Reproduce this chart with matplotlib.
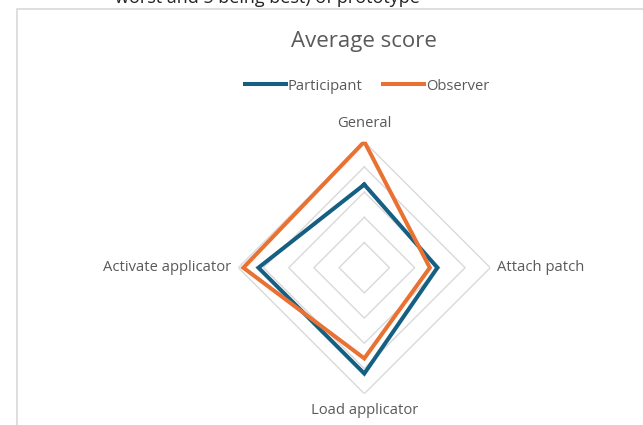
import numpy as np
import matplotlib
matplotlib.use("Agg")
import matplotlib.pyplot as plt
from matplotlib.patches import Rectangle

plt.rcParams['font.family'] = ['Open Sans', 'DejaVu Sans']

categories = ["General", "Attach patch", "Load applicator", "Activate applicator"]
participant = [3.3, 2.9, 4.2, 4.2]
observer = [5.0, 2.6, 3.6, 4.8]
ring_levels = [1, 2, 3, 4, 5]

text_color = "#595959"
grid_color = "#d9d9d9"
blue = "#156082"
orange = "#E97132"

W, H = 643, 425
fig = plt.figure(figsize=(W / 100, H / 100), dpi=100)

# chart frame (partly outside the picture)
fig.patches.append(Rectangle((17 / W, -0.1), 1.2, 1.1 - 9 / H,
                             transform=fig.transFigure, fill=False,
                             edgecolor=grid_color, linewidth=1.2))

# clipped line of the sheet title above the chart
fig.text(267 / W, 1 - 3 / H, "worst and 5 being best) of prototype",
         ha="center", va="baseline", fontsize=13, color="#222222")

cx, cy, rad = 364.3, 425 - 267.7, 126
ax = fig.add_axes([(cx - rad) / W, (cy - rad) / H, 2 * rad / W, 2 * rad / H],
                  projection="polar")
ax.set_theta_zero_location("N")
ax.set_theta_direction(-1)
ax.set_ylim(0, 5)
ax.grid(False)
ax.spines["polar"].set_visible(False)
ax.set_xticks([])
ax.set_yticks([])
ax.patch.set_alpha(0)

theta = np.linspace(0, 2 * np.pi, len(categories), endpoint=False)
theta_closed = np.append(theta, theta[0])

for lvl in ring_levels:
    ax.plot(theta_closed, [lvl] * len(theta_closed), color=grid_color,
            lw=1.0, zorder=1)

ax.plot(theta_closed, participant + participant[:1], color=blue, lw=2.9,
        solid_joinstyle="miter", zorder=3, label="Participant")
ax.plot(theta_closed, observer + observer[:1], color=orange, lw=2.9,
        solid_joinstyle="miter", zorder=4, label="Observer")

label_pos = [(5.72, "center", "center"), (5.25, "left", "center"),
             (5.66, "center", "center"), (5.28, "right", "center")]
for t, name, (r, ha, va) in zip(theta, categories, label_pos):
    ax.text(t, r, name, ha=ha, va=va, fontsize=10.6, color=text_color,
            clip_on=False)

fig.text(363.5 / W, 1 - 42 / H, "Average score", ha="center", va="center",
         fontsize=16, color=text_color)

leg = fig.legend(loc="center", bbox_to_anchor=(367 / W, 1 - 86 / H), ncol=2,
                 frameon=False, fontsize=10.6, handlelength=2.8,
                 handletextpad=0.1, columnspacing=1.4, labelcolor=text_color)

fig.savefig("out.png", dpi=100)
